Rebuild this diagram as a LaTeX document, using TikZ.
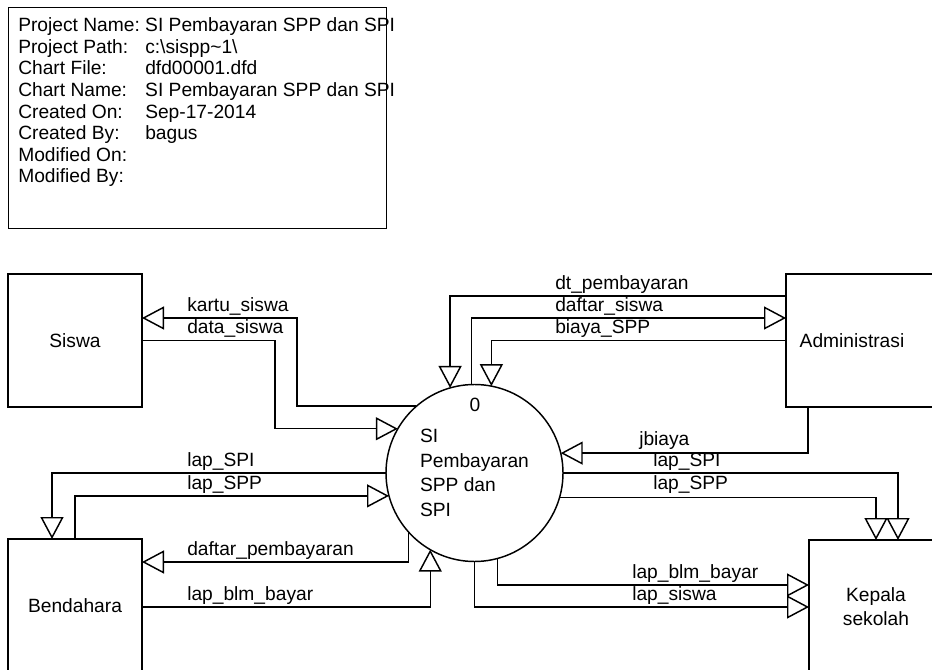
\documentclass[tikz,border=0pt]{standalone}
\usepackage{fontspec}
\setmainfont{Liberation Sans}
\usetikzlibrary{arrows.meta}

\tikzset{
  entity/.style={draw, rectangle, line width=1.1pt, minimum width=100.5pt, minimum height=99.75pt, inner sep=0pt, outer sep=0pt, align=center},
  process/.style={draw, circle, line width=1.1pt, minimum size=132.75pt, inner sep=0pt, outer sep=0pt, align=left},
  flow/.style={line width=1.1pt, -{Triangle[open, length=16.5pt, width=17.25pt]}},
  flowlabel/.style={anchor=base west, inner sep=0pt},
}

\begin{document}
\begin{tikzpicture}[x=0.75pt, y=-0.75pt, every node/.style={font=\fontsize{14.4}{18.5}\selectfont}]
  \useasboundingbox (0,0) rectangle (932,670);
  \begin{scope}
  \clip (0,0) rectangle (932,670);

  % chart info
  \node[draw, line width=1.1pt, minimum width=283.5pt, minimum height=165.75pt, anchor=north west, inner sep=0pt] (infobox) at (8,7) {};
  \node[anchor=base west, inner sep=0pt, font=\fontsize{14.4}{16.2}\selectfont] (infotext) at (18,31.7) {%
    \begin{tabular}[t]{@{}p{95.25pt}@{}l@{}}
      Project Name: & SI Pembayaran SPP dan SPI\\
      Project Path: & c:\textbackslash sispp\textasciitilde 1\textbackslash\\
      Chart File: & dfd00001.dfd\\
      Chart Name: & SI Pembayaran SPP dan SPI\\
      Created On: & Sep-17-2014\\
      Created By: & bagus\\
      Modified On: & \\
      Modified By: &
    \end{tabular}};

  % entities and process
  \node[entity] (siswa) at (75,340.5) {Siswa};
  \node[entity, minimum width=111pt] (admin) at (860,340.5) {Administrasi\hspace*{12pt}};
  \node[entity] (bendahara) at (75,605.5) {Bendahara};
  \node[entity] (kepala) at (876,606.5) {Kepala\\sekolah};
  \node[process] (proc) at (474.5,473) {SI\\Pembayaran\\SPP dan\\SPI};
  \node (procnum) at (475,404.5) {0};

  % Siswa
  \coordinate (kartu) at (297,318);
  \coordinate (data) at (275,429);
  \draw[flow] (proc.131.8) -| (kartu) -- (kartu -| siswa.east);
  \draw[flow] (siswa.east) -| (data |- proc.150.2) -- (proc.150.2);
  \node[flowlabel] (lkartu) at (187,311.5) {kartu\_siswa};
  \node[flowlabel] (ldata) at (187,333.5) {data\_siswa};

  % Administrasi
  \coordinate (dtpem) at (449,296);
  \coordinate (dafsis) at (470,318);
  \coordinate (jb) at (808,452);
  \draw[flow] (dtpem -| admin.west) -| (proc.106.7);
  \draw[flow] (proc.92.9) |- (dafsis -| admin.west);
  \draw[flow] (admin.west) -| (proc.79.3);
  \draw[flow] (jb |- admin.south) |- (proc.13.7);
  \node[flowlabel] (ldtpem) at (555,289.5) {dt\_pembayaran};
  \node[flowlabel] (ldafsis) at (555,311.5) {daftar\_siswa};
  \node[flowlabel] (lbiaya) at (555,333.5) {biaya\_SPP};
  \node[flowlabel] (ljb) at (639,445.5) {jbiaya};

  % Kepala sekolah
  \coordinate (spik) at (898,473);
  \coordinate (sppk) at (876,496);
  \coordinate (blmk) at (498,585);
  \coordinate (sisk) at (475,607);
  \draw[flow] (proc.east) -| (spik |- kepala.north);
  \draw[flow] (proc.344.9) -| (sppk |- kepala.north);
  \draw[flow] (proc.285.4) |- (blmk -| kepala.west);
  \draw[flow] (proc.south) |- (sisk -| kepala.west);
  \node[flowlabel] (lspik) at (653,466.5) {lap\_SPI};
  \node[flowlabel] (lsppk) at (653,489.5) {lap\_SPP};
  \node[flowlabel] (lblmk) at (632,578.5) {lap\_blm\_bayar};
  \node[flowlabel] (lsisk) at (632,600.5) {lap\_siswa};

  % Bendahara
  \coordinate (spib) at (52,473);
  \coordinate (sppb) at (75,496);
  \coordinate (dpem) at (409,562);
  \coordinate (blmb) at (431,607);
  \draw[flow] (proc.west) -| (spib |- bendahara.north);
  \draw[flow] (sppb |- bendahara.north) |- (proc.195.1);
  \draw[flow] (proc.222.3) |- (dpem -| bendahara.east);
  \draw[flow] (blmb -| bendahara.east) -| (proc.240.6);
  \node[flowlabel] (lspib) at (187,466.5) {lap\_SPI};
  \node[flowlabel] (lsppb) at (187,489.5) {lap\_SPP};
  \node[flowlabel] (ldpem) at (187,555.5) {daftar\_pembayaran};
  \node[flowlabel] (lblmb) at (187,600.5) {lap\_blm\_bayar};
  \end{scope}
\end{tikzpicture}
\end{document}
